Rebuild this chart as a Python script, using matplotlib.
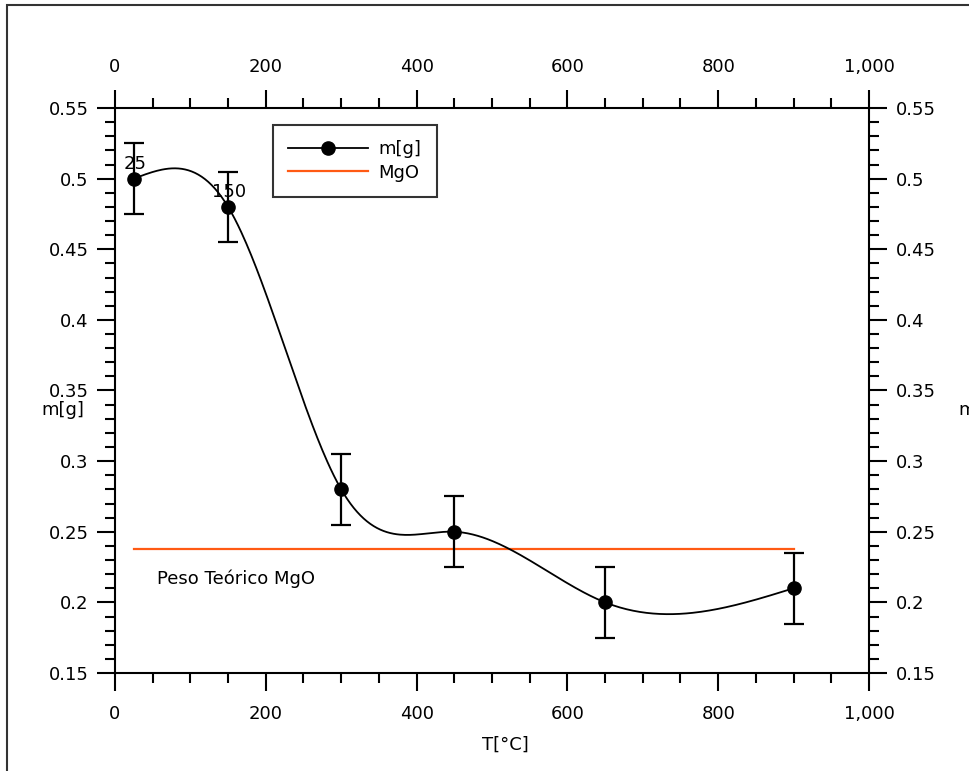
import numpy as np
import matplotlib
matplotlib.use("Agg")
import matplotlib.pyplot as plt
from matplotlib.patches import Rectangle
from matplotlib.ticker import MultipleLocator, FuncFormatter

# data
temp_c = [25, 150, 300, 450, 650, 900]
mass_g = [0.50, 0.48, 0.28, 0.25, 0.20, 0.21]
mass_err = [0.025, 0.025, 0.025, 0.025, 0.025, 0.025]
point_labels = {25: "25", 150: "150"}
mgo_x = [25, 900]
mgo_y = [0.238, 0.238]


def natural_spline(x, y, n=400):
    # natural cubic spline through the points (smooth line like the original)
    x = np.asarray(x, float)
    y = np.asarray(y, float)
    k = len(x)
    h = np.diff(x)
    A = np.zeros((k, k))
    b = np.zeros(k)
    A[0, 0] = A[-1, -1] = 1
    for i in range(1, k - 1):
        A[i, i - 1] = h[i - 1]
        A[i, i] = 2 * (h[i - 1] + h[i])
        A[i, i + 1] = h[i]
        b[i] = 6 * ((y[i + 1] - y[i]) / h[i] - (y[i] - y[i - 1]) / h[i - 1])
    M = np.linalg.solve(A, b)
    xs = np.linspace(x[0], x[-1], n)
    idx = np.clip(np.searchsorted(x, xs) - 1, 0, k - 2)
    x0, x1 = x[idx], x[idx + 1]
    hh = x1 - x0
    t0, t1 = x1 - xs, xs - x0
    ys = (M[idx] * t0**3 + M[idx + 1] * t1**3) / (6 * hh) \
        + (y[idx] / hh - M[idx] * hh / 6) * t0 \
        + (y[idx + 1] / hh - M[idx + 1] * hh / 6) * t1
    return xs, ys


FS = 13
plt.rcParams['font.family'] = ['DejaVu Sans']
fig = plt.figure(figsize=(9.7, 7.71), dpi=100)
ax = fig.add_axes([115 / 970, 1 - 673 / 771, (869 - 115) / 970, (673 - 108) / 771])

xs, ys = natural_spline(temp_c, mass_g)
ax.plot(xs, ys, color='black', lw=1.3, zorder=3)
ax.errorbar(temp_c, mass_g, yerr=mass_err, fmt='none', ecolor='black',
            elinewidth=1.6, capsize=7.5, capthick=1.6, zorder=3)
ax.plot(temp_c, mass_g, 'o', color='black', ms=9.5, zorder=4)
ax.plot(mgo_x, mgo_y, color='#ff5a14', lw=1.6, zorder=2)

# legend proxies
h1, = ax.plot([], [], '-o', color='black', lw=1.3, ms=9.5, label='m[g]')
h2, = ax.plot([], [], '-', color='#ff5a14', lw=1.6, label='MgO')
leg = ax.legend(handles=[h1, h2], loc='upper left',
                bbox_to_anchor=((273 - 115) / 754, 1 - (125 - 108) / 565),
                fontsize=FS, frameon=True, fancybox=False, borderpad=0.85,
                handlelength=4.4, handletextpad=0.6, labelspacing=0.3,
                borderaxespad=0)
leg.get_frame().set_edgecolor('black')
leg.get_frame().set_linewidth(1.5)

for xv, yv in zip(temp_c, mass_g):
    if xv in point_labels:
        ax.annotate(point_labels[xv], (xv, yv), xytext=(1, 4), textcoords='offset points',
                    ha='center', va='bottom', fontsize=FS)

ax.text(56, 0.217, 'Peso Teórico MgO', fontsize=FS, ha='left', va='center')

ax.set_xlim(0, 1000)
ax.set_ylim(0.15, 0.55)
ax.xaxis.set_major_locator(MultipleLocator(200))
ax.xaxis.set_minor_locator(MultipleLocator(50))
ax.yaxis.set_major_locator(MultipleLocator(0.05))
ax.yaxis.set_minor_locator(MultipleLocator(0.01))
ax.xaxis.set_major_formatter(FuncFormatter(lambda v, p: f'{v:,.0f}'))
ax.yaxis.set_major_formatter(FuncFormatter(lambda v, p: f'{v:g}'))

ax.tick_params(which='both', direction='out', width=1.5, colors='black',
               top=True, right=True, labeltop=True, labelright=True, labelsize=FS)
ax.tick_params(which='major', length=13)
ax.tick_params(which='minor', length=7)
ax.tick_params(axis='x', which='major', pad=10)
ax.tick_params(axis='y', which='major', pad=6)
for s in ax.spines.values():
    s.set_linewidth(1.5)

fig.text(505 / 970, 1 - 745 / 771, 'T[°C]', fontsize=FS, ha='center', va='center')
fig.text(63 / 970, 1 - 410 / 771, 'm[g]', fontsize=FS, ha='center', va='center')
# right-hand axis title, cut by the figure edge as in the original
fig.text(958 / 970, 1 - 410 / 771, 'm[g]', fontsize=FS, ha='left', va='center')

# outer frame, cut by the right and bottom edges
fig.patches.append(Rectangle((7 / 970, -0.1), 1.2, 1 - 5 / 771 + 0.1,
                             transform=fig.transFigure, fill=False,
                             edgecolor='#333333', lw=1.5))

fig.savefig('out.png', dpi=100)
